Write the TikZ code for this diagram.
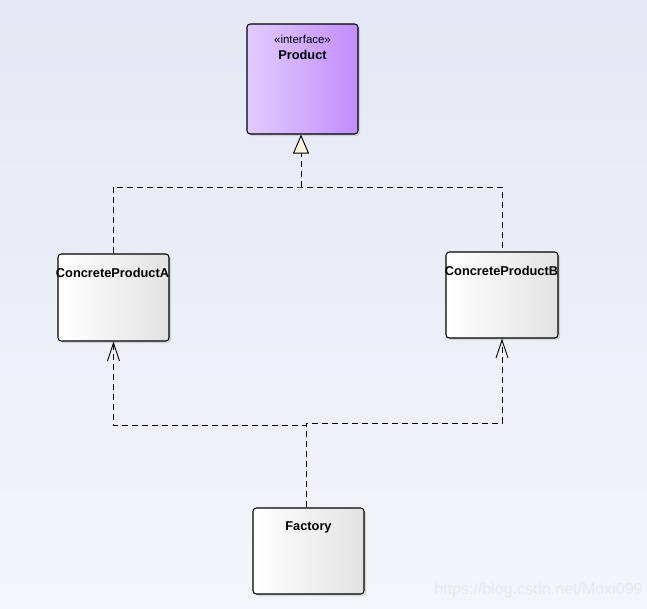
\documentclass[tikz,border=0pt]{standalone}
\usepackage{fontspec}
\setmainfont{Liberation Sans}
\usetikzlibrary{arrows.meta,shadows}
\definecolor{bgtop}{HTML}{E3E8F4}
\definecolor{bgbot}{HTML}{F4F5FA}
\definecolor{purpL}{HTML}{E2CBFF}
\definecolor{purpR}{HTML}{C18DFC}
\definecolor{boxR}{HTML}{E2E2E2}
\definecolor{tricol}{HTML}{FFF6E2}
\definecolor{wmark}{HTML}{E6E8EF}
\tikzset{
  classbox/.style={draw=black, line width=0.8pt, rounded corners=2.5pt,
    left color=white, right color=boxR, inner sep=0pt,
    drop shadow={shadow xshift=1.5pt, shadow yshift=-1.5pt, opacity=0.25, fill=gray}},
  ifacebox/.style={classbox, left color=purpL, right color=purpR},
  ctext/.style={font=\fontsize{9.6}{11}\selectfont\bfseries, inner sep=0pt, anchor=center},
  stext/.style={font=\fontsize{8.6}{10}\selectfont, inner sep=0pt, anchor=center},
  dep/.style={dashed, dash pattern=on 4.5pt off 3pt, line width=0.7pt},
  realize/.style={dep, -{Triangle[open, length=14.25pt, width=12pt, fill=tricol, line width=0.7pt]}},
  uses/.style={dep, -{Straight Barb[length=13.5pt, width=9pt, line width=0.7pt]}}
}
\begin{document}
\begin{tikzpicture}[x=0.75pt, y=-0.75pt]
  \shade[top color=bgtop, bottom color=bgbot] (0,0) rectangle (647,608);
  \useasboundingbox (0,0) rectangle (647,608);

  \node[ifacebox, minimum width=83.25pt, minimum height=82.5pt] (P) at (302.5,79) {};
  \node[stext] (Ps) at (302.5,39) {«interface»};
  \node[ctext] (Pn) at (302.5,55) {Product};

  \node[classbox, minimum width=83.25pt, minimum height=65.25pt] (A) at (113.5,297.5) {};
  \node[ctext] (An) at (112.5,273) {ConcreteProductA};

  \node[classbox, minimum width=84pt, minimum height=64.5pt] (B) at (502,295) {};
  \node[ctext] (Bn) at (501.5,271) {ConcreteProductB};

  \node[classbox, minimum width=83.25pt, minimum height=64.5pt] (F) at (308.5,551) {};
  \node[ctext] (Fn) at (308.5,527) {Factory};

  \coordinate (j1) at (301,187);
  \coordinate (fa) at (306,425);
  \coordinate (fb) at (306,423);

  \draw[dep] (A.north) |- (j1) -| (B.north);
  \draw[realize] (j1) -- (j1 |- P.south);

  \draw[uses] (fa |- F.north) -- (fa) -| (A.south);
  \draw[uses] (fb |- F.north) -- (fb) -| (B.south);

  \node[font=\fontsize{12}{14}\selectfont, text=wmark, inner sep=0pt] (wm) at (538.5,590) {https://blog.csdn.net/Moxi099};
\end{tikzpicture}
\end{document}
